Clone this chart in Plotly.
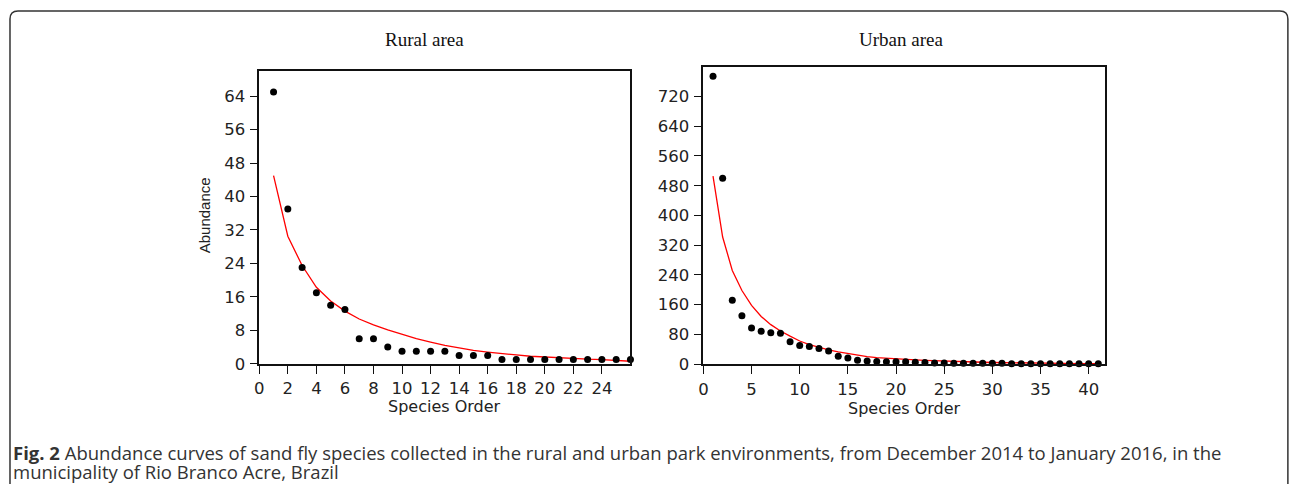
import plotly.graph_objects as go

W, H_REF = 1292, 484
H = 495  # the page is photographed slightly squeezed vertically; compensate

# ---------------- data ----------------
rural_order = list(range(1, 27))
rural_abundance = [65, 37, 23, 17, 14, 13, 6, 6, 4, 3, 3, 3, 3, 2, 2, 2,
                   1, 1, 1, 1, 1, 1, 1, 1, 1, 1]
rural_fit = [45, 30.5, 23.5, 18.3, 15, 12.6, 10.7, 9.3, 8.1, 7, 6.0, 5.2, 4.4,
             3.8, 3.2, 2.8, 2.4, 2.1, 1.8, 1.6, 1.4, 1.25, 1.1, 1.0, 0.8, 0.6]

urban_order = list(range(1, 42))
urban_abundance = [775, 500, 172, 130, 97, 88, 84, 83, 60, 50, 47, 42, 35, 21,
                   16, 10, 8, 7, 6, 6, 6, 5, 4, 3, 3, 2, 2, 2, 2, 2, 2,
                   1, 1, 1, 1, 1, 1, 1, 1, 1, 1]
urban_fit = [506, 342, 252, 198, 158, 128, 106, 89, 75, 62, 52, 44, 38, 33,
             28.5, 24, 20, 17.5, 15.5, 13.8, 12.3, 11, 9.8, 8.7, 7.7, 6.9, 6.1,
             5.4, 4.8, 4.2, 3.7, 3.3, 2.9, 2.6, 2.3, 2.0, 1.8, 1.6, 1.4, 1.2, 1.0]

rural_yticks = [0, 8, 16, 24, 32, 40, 48, 56, 64]
rural_xticks = list(range(0, 25, 2))
urban_yticks = [0, 80, 160, 240, 320, 400, 480, 560, 640, 720]
urban_xticks = [0, 5, 10, 15, 20, 25, 30, 35, 40]

panel_titles = ["Rural area", "Urban area"]
x_title = "Species Order"
y_title = "Abundance"
caption_1 = ("<b>Fig. 2</b> Abundance curves of sand fly species collected in the rural "
             "and urban park environments, from December 2014 to January 2016, in the")
caption_2 = "municipality of Rio Branco Acre, Brazil"


def px(x):
    return min(max((x - 4) / 0.997 / W, 0), 1)


def py(y):
    return 1 - y / H_REF


fig = go.Figure()

fig.add_trace(go.Scatter(x=rural_order, y=rural_fit, mode="lines",
                         line=dict(color="#ff0000", width=1.3),
                         xaxis="x", yaxis="y", showlegend=False))
fig.add_trace(go.Scatter(x=rural_order, y=rural_abundance, mode="markers",
                         marker=dict(color="black", size=7),
                         xaxis="x", yaxis="y", showlegend=False, cliponaxis=False))
fig.add_trace(go.Scatter(x=urban_order, y=urban_fit, mode="lines",
                         line=dict(color="#ff0000", width=1.3),
                         xaxis="x2", yaxis="y2", showlegend=False))
fig.add_trace(go.Scatter(x=urban_order, y=urban_abundance, mode="markers",
                         marker=dict(color="black", size=7),
                         xaxis="x2", yaxis="y2", showlegend=False, cliponaxis=False))

tickfont = dict(family="DejaVu Sans", size=16.5, color="#222")
common = dict(showline=True, mirror=True, linecolor="#111", linewidth=1.5,
              ticks="outside", ticklen=8, tickwidth=1.3, tickcolor="#111",
              showgrid=False, zeroline=False, tickfont=tickfont, fixedrange=True)

fig.update_layout(
    width=W, height=H, autosize=False,
    margin=dict(l=0, r=0, t=0, b=0),
    paper_bgcolor="white", plot_bgcolor="white",
    xaxis=dict(domain=[px(258.5), px(630)], range=[0, 26], tickvals=rural_xticks,
               anchor="y", ticklabelstandoff=1, **common),
    yaxis=dict(domain=[py(363), py(71)], range=[0, 70], tickvals=rural_yticks,
               anchor="x", ticklabelstandoff=1, **common),
    xaxis2=dict(domain=[px(703), px(1105)], range=[0, 41.7], tickvals=urban_xticks,
                anchor="y2", ticklabelstandoff=1, **common),
    yaxis2=dict(domain=[py(363.3), py(66.7)], range=[0, 800], tickvals=urban_yticks,
                anchor="x2", ticklabelstandoff=1, **common),
)

ann = []
ann.append(dict(x=px(424), y=py(39), text=panel_titles[0], showarrow=False,
                xref="paper", yref="paper", xanchor="center", yanchor="middle",
                font=dict(family="Liberation Serif", size=19, color="#111")))
ann.append(dict(x=px(901), y=py(39), text=panel_titles[1], showarrow=False,
                xref="paper", yref="paper", xanchor="center", yanchor="middle",
                font=dict(family="Liberation Serif", size=19, color="#111")))
ann.append(dict(x=px(444), y=py(406), text=x_title, showarrow=False,
                xref="paper", yref="paper", xanchor="center", yanchor="middle",
                font=dict(family="DejaVu Sans", size=16, color="#222")))
ann.append(dict(x=px(904), y=py(408), text=x_title, showarrow=False,
                xref="paper", yref="paper", xanchor="center", yanchor="middle",
                font=dict(family="DejaVu Sans", size=16, color="#222")))
ann.append(dict(x=px(204), y=py(215), text=y_title, showarrow=False, textangle=-90,
                xref="paper", yref="paper", xanchor="center", yanchor="middle",
                font=dict(family="Liberation Sans", size=15, color="#222")))
ann.append(dict(x=px(10), y=py(452), text=caption_1, showarrow=False,
                xref="paper", yref="paper", xanchor="left", yanchor="middle",
                font=dict(family="Open Sans", size=18.5, color="#333")))
ann.append(dict(x=px(10), y=py(471), text=caption_2, showarrow=False,
                xref="paper", yref="paper", xanchor="left", yanchor="middle",
                font=dict(family="Open Sans", size=18.5, color="#333")))
fig.update_layout(annotations=ann)

# rounded outer frame (bottom runs off the page)
L, T, R, B, r = 9, 11, 1288, 484, 8
path = (f"M {px(L)},{py(B)} L {px(L)},{py(T + r)} Q {px(L)},{py(T)} {px(L + r)},{py(T)} "
        f"L {px(R - r)},{py(T)} Q {px(R)},{py(T)} {px(R)},{py(T + r)} L {px(R)},{py(B)}")
fig.add_shape(type="path", path=path, xref="paper", yref="paper",
              line=dict(color="#333", width=1.5))

post = (
    "var de=document.documentElement, b=document.body;"
    "de.style.margin='0';de.style.padding='0';de.style.overflow='hidden';"
    "b.style.margin='0';b.style.padding='0';b.style.overflow='hidden';"
)

fig.write_html("out.html", config={"displayModeBar": False}, post_script=post)
